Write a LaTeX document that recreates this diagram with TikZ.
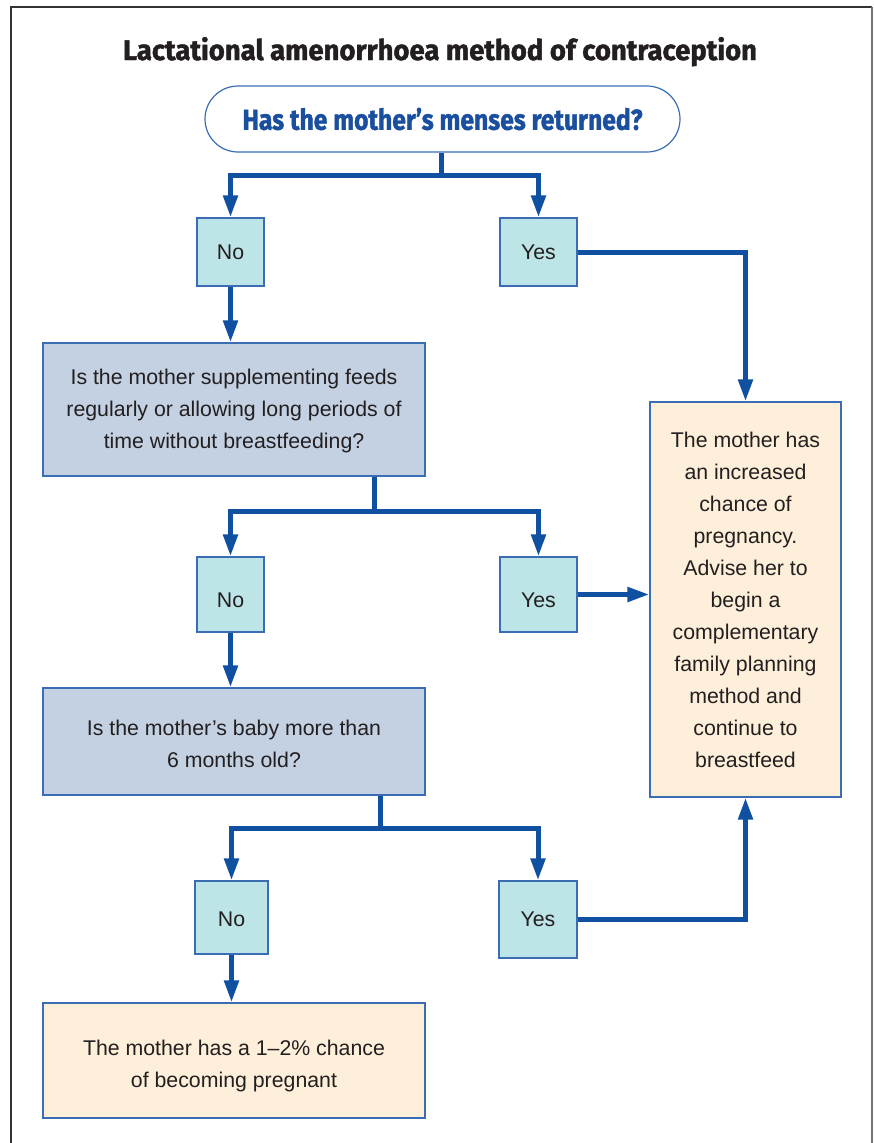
\documentclass[tikz,border=0pt]{standalone}
\usepackage{graphicx}
\usepackage{fontspec}
\setmainfont{Liberation Sans}
\newfontfamily\titlefont[BoldFeatures={FakeBold=1.6}]{Fira Sans}
\usetikzlibrary{arrows.meta}
\definecolor{arrowblue}{HTML}{1050A0}
\definecolor{edgeblue}{HTML}{3B6DB5}
\definecolor{tealfill}{HTML}{BDE4E6}
\definecolor{qfill}{HTML}{C3D1E2}
\definecolor{ofill}{HTML}{FDEFDA}
\definecolor{txt}{HTML}{231F20}
\definecolor{pilltext}{HTML}{1A4E9E}
\begin{document}
\begin{tikzpicture}[x=1pt,y=-1pt,
  box/.style={draw=edgeblue, line width=1.2pt, inner sep=0pt, text=txt,
    font=\fontsize{21.3}{32}\selectfont, align=center},
  ans/.style={box, fill=tealfill},
  qbox/.style={box, fill=qfill, minimum width=382pt},
  obox/.style={box, fill=ofill},
  conn/.style={draw=arrowblue, line width=5pt},
  arr/.style={conn, -{Triangle[length=22pt,width=14pt]}}]
\useasboundingbox (0,0) rectangle (873,1143);
% frame
\draw[color=black!80, line width=1.8pt] (11,1143) -- (11,7) -- (872,7);
\draw[color=black!55, line width=1.5pt] (872,7) -- (872,1143);
% title
\node[text=txt, inner sep=0pt, anchor=base] (title) at (440,60)
  {\resizebox{634pt}{23pt}{\titlefont\bfseries Lactational amenorrhoea method of contraception}};
% pill
\node[draw=edgeblue, line width=1.2pt, fill=white, rounded corners=33pt,
  minimum width=475pt, minimum height=66pt, inner sep=0pt, text=pilltext] (pill) at (442.5,119)
  {\resizebox{400pt}{22pt}{\titlefont\bfseries Has the mother’s menses returned?}};
% nodes
\node[ans, minimum width=67pt, minimum height=68pt] (no1) at (230.5,252) {No};
\node[ans, minimum width=77pt, minimum height=68pt] (yes1) at (538.5,252) {Yes};
\node[qbox, minimum height=133pt] (q1) at (234,409.5)
  {\rule{0pt}{19pt}Is the mother supplementing feeds\\regularly or allowing long periods of\\time without breastfeeding?};
\node[ans, minimum width=67pt, minimum height=75pt] (no2) at (230.5,594.5) {\rule{0pt}{27pt}No};
\node[ans, minimum width=77pt, minimum height=75pt] (yes2) at (538.5,594.5) {\rule{0pt}{27pt}Yes};
\node[qbox, minimum height=107pt] (q2) at (234,741.5)
  {\rule{0pt}{21pt}Is the mother’s baby more than\\6 months old?};
\node[ans, minimum width=73pt, minimum height=73pt] (no3) at (231.5,917.5) {\rule{0pt}{19pt}No};
\node[ans, minimum width=78pt, minimum height=77pt] (yes3) at (538,919.5) {Yes};
\node[obox, minimum width=382pt, minimum height=115pt] (res1) at (234,1060.5)
  {\rule{0pt}{27pt}The mother has a 1–2\% chance\\of becoming pregnant};
\node[obox, minimum width=191pt, minimum height=395pt] (res2) at (745.5,599.5)
  {The mother has\\an increased\\chance of\\pregnancy.\\Advise her to\\begin a\\complementary\\family planning\\method and\\continue to\\breastfeed};
% connectors
\coordinate (j1) at (441,175);
\coordinate (j2) at (374,511);
\coordinate (j3) at (380,828);
\draw[conn] (j1 |- pill.south) -- (j1);
\draw[arr] (j1) -| (no1);
\draw[arr] (j1) -| (yes1);
\draw[arr] (no1) -- (no1 |- q1.north);
\draw[arr] (yes1) -| (res2);
\draw[conn] (j2 |- q1.south) -- (j2);
\draw[arr] (j2) -| (no2);
\draw[arr] (j2) -| (yes2);
\draw[arr] (yes2) -- (yes2 -| res2.west);
\draw[arr] (no2) -- (no2 |- q2.north);
\draw[conn] (j3 |- q2.south) -- (j3);
\draw[arr] (j3) -| (no3);
\draw[arr] (j3) -| (yes3);
\draw[arr] (yes3) -| (res2);
\draw[arr] (no3) -- (no3 |- res1.north);
\end{tikzpicture}
\end{document}
